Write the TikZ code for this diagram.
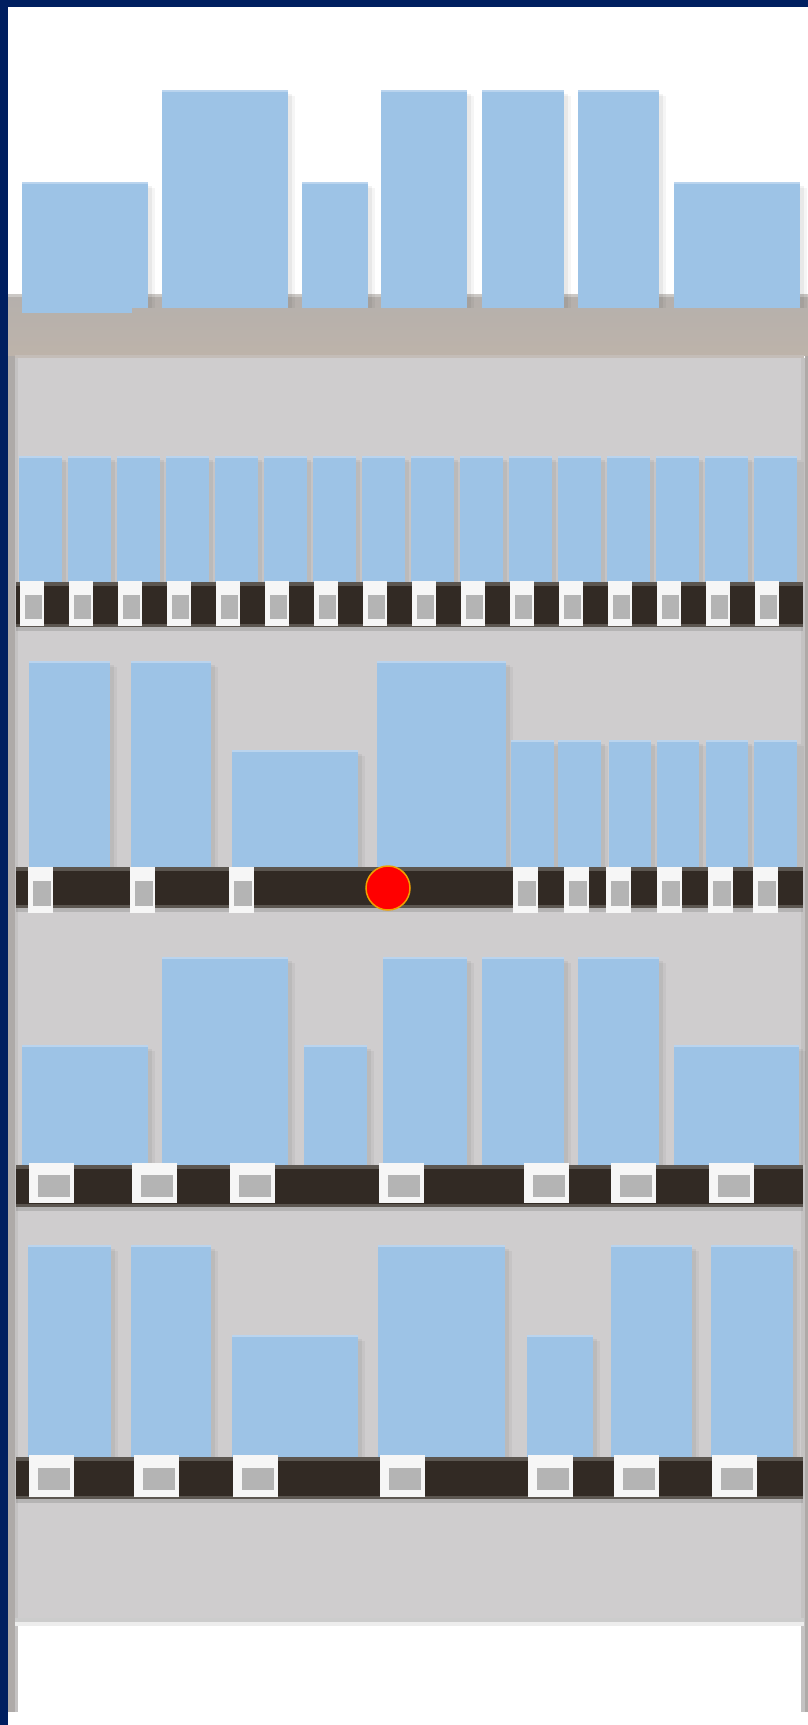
\documentclass[tikz,border=0pt]{standalone}
\usepackage{tikz}
\definecolor{FrameNavy}{RGB}{0,31,96}
\definecolor{WallGray}{RGB}{207,205,206}
\definecolor{PostGray}{RGB}{174,170,168}
\definecolor{PostLight}{RGB}{196,194,194}
\definecolor{HeadTop}{RGB}{181,176,172}
\definecolor{HeadBot}{RGB}{189,179,170}
\definecolor{ProdBlue}{RGB}{157,195,230}
\definecolor{ProdEdge}{RGB}{186,212,238}
\definecolor{BarDark}{RGB}{50,42,36}
\definecolor{BarEdge}{RGB}{92,86,80}
\definecolor{TagWhite}{RGB}{246,246,246}
\definecolor{TagGray}{RGB}{180,180,180}
\definecolor{DotOrange}{RGB}{240,160,0}
\newcommand{\goods}[4]{\fill[black,opacity=.04] (#1+2,#3+6) rectangle (#2+7,#4); \fill[black,opacity=.05] (#1+2,#3+4) rectangle (#2+4,#4); \fill[ProdBlue] (#1,#3) rectangle (#2,#4); \fill[ProdEdge] (#1,#3) rectangle (#2,#3+2);}
\newcommand{\shelfbar}[2]{\fill[black,opacity=.12] (16,#2) rectangle (803,#2+4); \fill[BarEdge] (16,#1) rectangle (803,#2); \fill[BarDark] (16,#1+4) rectangle (803,#2-3);}
\newcommand{\pricetag}[4]{\fill[TagWhite] (#1,#3) rectangle (#1+#2,#4); \fill[TagGray] ({#1+0.2*#2},{#3+0.3*(#4-#3)}) rectangle ({#1+0.9*#2},{#4-0.16*(#4-#3)});}

\begin{document}
\begin{tikzpicture}[x=1pt,y=-1pt]
\useasboundingbox (0,0) rectangle (808,1725);
\fill[white] (0,0) rectangle (808,1725);
\fill[WallGray] (15,297) rectangle (804,1622);
\fill[PostGray] (8,297) rectangle (15,1712); \fill[PostLight] (15,358) rectangle (18,1712);
\fill[PostLight] (801,358) rectangle (805,1712); \fill[PostGray] (805,297) rectangle (808,1712);
\shade[top color=HeadTop,bottom color=HeadBot] (8,297) rectangle (808,355);
\fill[HeadTop!70!white] (8,294) rectangle (808,297); \fill[HeadBot!60!WallGray] (15,355) rectangle (804,358);
\fill[black!20] (15,1618) rectangle (804,1622); \fill[black!7] (15,1622) rectangle (804,1626); \fill[white] (18,1626) rectangle (801,1712);
\foreach \i in {0,...,15}{\goods{19+49*\i}{62+49*\i}{456}{582}}
\shelfbar{582}{627}
\foreach \i in {0,...,15}{\pricetag{20+49*\i}{24}{581}{626}}
\foreach \a/\b/\t in {29/110/661,131/211/661,232/358/750,377/506/661,511/554/740,558/601/740,609/651/740,657/699/740,706/748/740,754/797/740}{\goods{\a}{\b}{\t}{867}}
\shelfbar{867}{908}
\foreach \a in {28,130,229,513,564,606,657,708,753}{\pricetag{\a}{25}{867}{913}}
\fill[red,draw=DotOrange,line width=1.5pt] (388,888) circle (22pt);
\foreach \a/\b/\t in {22/148/1045,162/288/957,304/367/1045,383/467/957,482/564/957,578/659/957,674/799/1045}{\goods{\a}{\b}{\t}{1165}}
\shelfbar{1165}{1207}
\foreach \a in {29,132,230,379,524,611,709}{\pricetag{\a}{45}{1163}{1203}}
\foreach \a/\b/\t in {28/111/1245,131/211/1245,232/358/1335,378/505/1245,527/593/1335,611/692/1245,711/793/1245}{\goods{\a}{\b}{\t}{1457}}
\shelfbar{1457}{1499}
\foreach \a in {29,134,233,380,528,614,712}{\pricetag{\a}{45}{1455}{1497}}
\foreach \a/\b/\t in {22/148/182,162/288/90,302/368/182,381/467/90,482/564/90,578/659/90,674/800/182}{\goods{\a}{\b}{\t}{308}}
\fill[ProdBlue] (22,308) rectangle (132,313);
\fill[FrameNavy] (0,0) rectangle (808,7); \fill[FrameNavy] (0,0) rectangle (8,1725);
\end{tikzpicture}
\end{document}
